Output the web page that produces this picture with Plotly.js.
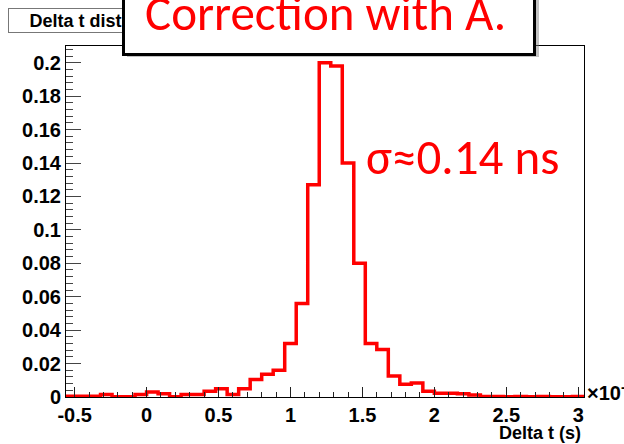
<!DOCTYPE html>
<html>
<head>
<meta charset="utf-8">
<script src="https://cdn.plot.ly/plotly-3.0.1.min.js"></script>
<style>
html,body{margin:0;padding:0;background:#fff;}
#chart{width:624px;height:444px;}
</style>
</head>
<body>
<div id="chart"></div>
<script>
// Histogram bin edges (units of 1e-9 s)
const binEdges = [-0.56,-0.48,-0.40,-0.32,-0.24,-0.16,-0.08,0.00,0.08,0.16,
  0.24,0.32,0.40,0.48,0.56,0.64,0.72,0.80,0.88,0.96,
  1.04,1.12,1.20,1.28,1.36,1.44,1.52,1.60,1.68,1.76,
  1.84,1.92,2.00,2.08,2.16,2.24,2.32,2.40,2.48,2.56,
  2.64,2.72,2.80,2.88,2.96,3.04];
// Normalized bin contents
const binValues = [0.0005,0.0005,0.0005,0.0015,0.0002,0.0002,0.0015,0.0030,0.0020,0.0002,
  0.0015,0.0015,0.0035,0.0050,0.0015,0.0050,0.0105,0.0136,0.0160,0.0320,
  0.0560,0.1270,0.2000,0.1980,0.1400,0.0800,0.0320,0.0284,0.0125,0.0076,
  0.0084,0.0034,0.0022,0.0022,0.0020,0.0012,0.0003,0.0003,0.0002,0.0003,
  0.0002,0.0003,0.0002,0.0002,0.0003];
const xTickVals = [-0.5,0,0.5,1,1.5,2,2.5,3];
const xTickLabels = ['-0.5','0','0.5','1','1.5','2','2.5','3'];
const yTickVals = [0,0.02,0.04,0.06,0.08,0.1,0.12,0.14,0.16,0.18,0.2];
const yTickLabels = ['0','0.02','0.04','0.06','0.08','0.1','0.12','0.14','0.16','0.18','0.2'];

const histTitle = 'Delta t distribution';
const xTitle = 'Delta t (s)';
const overlayText = 'Correction with A.';
const sigmaText = 'σ≈0.14 ns';
const expText = '×10<sup>-9</sup>';

const W = 624, H = 444;
const M = {l:66, r:40, t:46, b:47};
const pw = W - M.l - M.r, ph = H - M.t - M.b;
const px = x => (x - M.l) / pw;
const py = y => (H - M.b - y) / ph;

const stepY = binValues.concat([binValues[binValues.length-1]]);

const rootFam = 'Liberation Sans, Arial, Helvetica, sans-serif';
const rootFont = {family:rootFam, size:20, color:'#000', weight:700};
const slideFont = 'Carlito, Lato, Calibri, sans-serif';

const trace = {
  type:'scatter', mode:'lines',
  x: binEdges, y: stepY,
  line:{shape:'hv', color:'#ff0000', width:3.5},
  hoverinfo:'skip', showlegend:false
};

const layout = {
  width:W, height:H,
  margin:M,
  paper_bgcolor:'#fff', plot_bgcolor:'#fff',
  showlegend:false,
  xaxis:{
    range:[-0.56,3.04], showgrid:false, zeroline:false,
    showline:true, mirror:true, linecolor:'#000', linewidth:1,
    tickmode:'array', tickvals:xTickVals, ticktext:xTickLabels,
    ticks:'inside', ticklen:10, tickwidth:1, tickcolor:'#222',
    minor:{dtick:0.1, tick0:0, ticks:'inside', ticklen:5, tickwidth:1, tickcolor:'#222', showgrid:false},
    tickfont:rootFont
  },
  yaxis:{
    range:[0,0.21], showgrid:false, zeroline:false,
    showline:true, mirror:true, linecolor:'#000', linewidth:1,
    tickmode:'array', tickvals:yTickVals, ticktext:yTickLabels,
    ticks:'inside', ticklen:15, tickwidth:1, tickcolor:'#444',
    minor:{dtick:0.004, tick0:0, ticks:'inside', ticklen:7, tickwidth:1, tickcolor:'#444', showgrid:false},
    tickfont:rootFont
  },
  shapes:[
    // drop shadow of the slide overlay box
    {type:'rect', xref:'paper', yref:'paper', layer:'above',
     x0:px(127), x1:px(539), y0:py(57), y1:py(-10),
     fillcolor:'rgba(120,120,120,0.45)', line:{width:0}}
  ],
  annotations:[
    // ROOT title box
    {xref:'paper', yref:'paper', x:px(8), y:py(20.5), xanchor:'left', yanchor:'middle',
     text:histTitle, showarrow:false, align:'center',
     font:{family:rootFam, size:18, color:'#000', weight:700},
     bgcolor:'#fff', bordercolor:'#777', borderwidth:1, borderpad:2,
     width:196, height:19},
    // slide overlay box
    {xref:'paper', yref:'paper', x:px(329), y:py(56), xanchor:'center', yanchor:'bottom',
     text:'&nbsp;', showarrow:false,
     font:{family:slideFont, size:12, color:'#fff'},
     bgcolor:'#fff', bordercolor:'#000', borderwidth:3, borderpad:0,
     width:408, height:90},
    // slide overlay text
    {xref:'paper', yref:'paper', x:px(325), y:py(45), xanchor:'center', yanchor:'bottom',
     text:overlayText, showarrow:false,
     font:{family:slideFont, size:49, color:'#ff0000'}},
    {xref:'paper', yref:'paper', x:px(364), y:py(157), xanchor:'left', yanchor:'middle',
     text:sigmaText, showarrow:false,
     font:{family:slideFont, size:49, color:'#ff0000'}},
    {xref:'paper', yref:'paper', x:px(585), y:py(391), xanchor:'left', yanchor:'middle',
     text:expText, showarrow:false,
     font:{family:rootFam, size:20, color:'#000', weight:700}},
    {xref:'paper', yref:'paper', x:px(583), y:py(433), xanchor:'right', yanchor:'middle',
     text:xTitle, showarrow:false,
     font:{family:rootFam, size:18, color:'#000', weight:700}}
  ]
};

Plotly.newPlot('chart', [trace], layout, {staticPlot:true, displayModeBar:false});
</script>
</body>
</html>
